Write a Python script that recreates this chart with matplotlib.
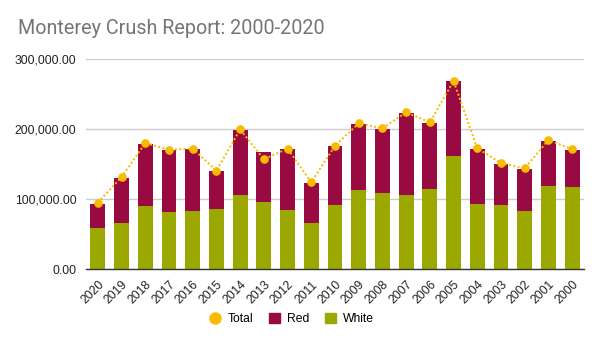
import matplotlib
matplotlib.use("Agg")
import matplotlib.pyplot as plt
from matplotlib.lines import Line2D
from matplotlib.patches import Patch
from matplotlib.ticker import FuncFormatter

plt.rcParams["font.family"] = ["Liberation Sans", "DejaVu Sans"]

years = ["2020", "2019", "2018", "2017", "2016", "2015", "2014", "2013", "2012", "2011",
         "2010", "2009", "2008", "2007", "2006", "2005", "2004", "2003", "2002", "2001", "2000"]
white = [59000, 65200, 89500, 81900, 83300, 86200, 105200, 96200, 84800, 65200,
         91000, 113300, 109000, 106200, 114800, 161900, 93300, 91900, 83300, 119000, 117600]
red = [33900, 65300, 89100, 88600, 88600, 53800, 93800, 71400, 87100, 57700,
       84700, 93800, 91500, 117100, 93800, 106700, 78600, 58100, 60000, 64300, 52900]
total = [94800, 131400, 180000, 170500, 171900, 140500, 199500, 156700, 171900, 123800,
         176200, 208100, 201000, 223800, 209500, 268600, 172400, 151400, 143800, 184300, 171000]

c_white = "#9BA800"
c_red = "#990A42"
c_total = "#F9BB00"

fig = plt.figure(figsize=(6.02, 3.43), dpi=100)
ax = fig.add_axes([86/602, 1-269/343, (584-86)/602, (269-59)/343])

x = list(range(len(years)))
ax.bar(x, white, width=0.63, color=c_white, zorder=2)
ax.bar(x, red, width=0.63, bottom=white, color=c_red, zorder=2)
ax.plot(x, total, linestyle=(0, (1, 1.2)), color=c_total, linewidth=1.4, zorder=3)
ax.plot(x, total, linestyle="none", marker="o", markersize=5.2, color=c_total, zorder=4)

ax.set_xlim(-0.5, len(years) - 0.5)
ax.set_ylim(0, 300000)
ax.set_yticks([0, 100000, 200000, 300000])
ax.yaxis.set_major_formatter(FuncFormatter(lambda v, p: f"{v:,.2f}"))
ax.set_xticks(x)
ax.set_xticklabels(years, rotation=45, ha="right", rotation_mode="anchor")
ax.tick_params(axis="both", length=0, labelsize=8.7, colors="#222222")
ax.tick_params(axis="x", pad=7)
ax.tick_params(axis="y", pad=7)
ax.grid(axis="y", color="#cccccc", linewidth=1, zorder=0)
for s in ["top", "right", "left"]:
    ax.spines[s].set_visible(False)
ax.spines["bottom"].set_color("#333333")
ax.spines["bottom"].set_linewidth(1)
ax.spines["bottom"].set_zorder(5)

fig.text(18/602, 1-28/343, "Monterey Crush Report: 2000-2020", fontsize=14.2,
         color="#757575", va="center", ha="left", family=["Roboto", "DejaVu Sans"])

handles = [
    Line2D([], [], marker="o", linestyle="none", color=c_total, markersize=8),
    Patch(color=c_red),
    Patch(color=c_white),
]
fig.legend(handles, ["Total", "Red", "White"], loc="center", bbox_to_anchor=(292/602, 1-319/343),
           ncol=3, frameon=False, fontsize=8.7, handlelength=0.9, handleheight=0.9,
           columnspacing=1.3, handletextpad=0.6)

fig.savefig("out.png", dpi=100)
